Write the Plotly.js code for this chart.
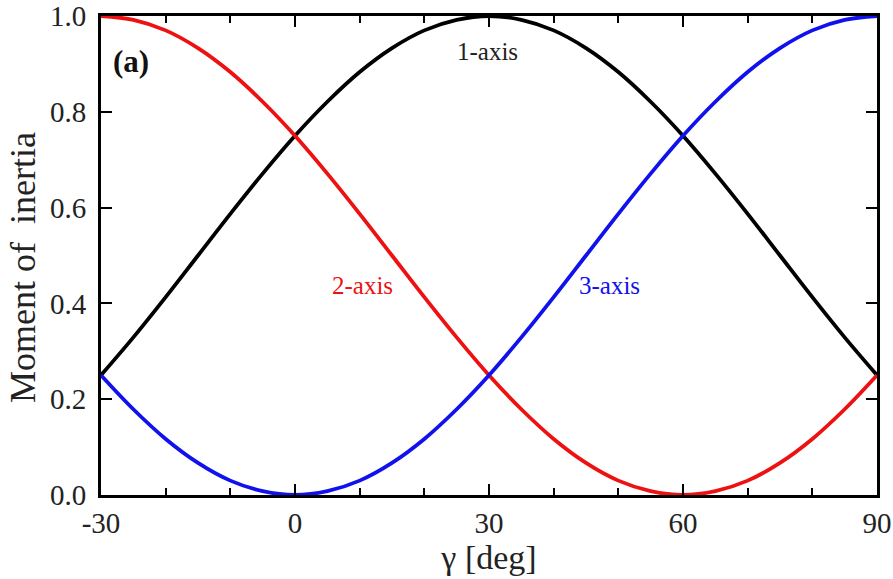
<!DOCTYPE html>
<html>
<head>
<meta charset="utf-8">
<script src="https://cdn.plot.ly/plotly-3.0.1.min.js"></script>
<style>
  html, body { margin: 0; padding: 0; background: #fff; }
  #plot { width: 893px; height: 579px; }
</style>
</head>
<body>
<div id="plot"></div>
<script>
// Triaxial angle gamma in degrees
const gammaDeg = [-30, -25, -20, -15, -10, -5, 0, 5, 10, 15, 20, 25, 30,
                  35, 40, 45, 50, 55, 60, 65, 70, 75, 80, 85, 90];

// Moments of inertia about the three principal axes (normalised)
const axis1 = [0.250, 0.329, 0.413, 0.500, 0.587, 0.671, 0.750, 0.821, 0.883, 0.933, 0.970, 0.992, 1.000,
               0.992, 0.970, 0.933, 0.883, 0.821, 0.750, 0.671, 0.587, 0.500, 0.413, 0.329, 0.250];
const axis2 = [1.000, 0.992, 0.970, 0.933, 0.883, 0.821, 0.750, 0.671, 0.587, 0.500, 0.413, 0.329, 0.250,
               0.179, 0.117, 0.067, 0.030, 0.008, 0.000, 0.008, 0.030, 0.067, 0.117, 0.179, 0.250];
const axis3 = [0.250, 0.179, 0.117, 0.067, 0.030, 0.008, 0.000, 0.008, 0.030, 0.067, 0.117, 0.179, 0.250,
               0.329, 0.413, 0.500, 0.587, 0.671, 0.750, 0.821, 0.883, 0.933, 0.970, 0.992, 1.000];

const xTickVals = [-30, 0, 30, 60, 90];
const xTickText = ['-30', '0', '30', '60', '90'];
const yTickVals = [0, 0.2, 0.4, 0.6, 0.8, 1.0];
const yTickText = ['0.0', '0.2', '0.4', '0.6', '0.8', '1.0'];

const serif = 'Liberation Serif';

function curve(y, color) {
  return {
    x: gammaDeg, y: y, type: 'scatter', mode: 'lines',
    line: { color: color, width: 3.8, shape: 'spline', smoothing: 1 },
    hoverinfo: 'skip', showlegend: false
  };
}

const traces = [
  curve(axis1, '#000000'),
  curve(axis2, '#ee1111'),
  curve(axis3, '#1111ee')
];

const axisCommon = {
  showgrid: false, zeroline: false,
  showline: true, linecolor: '#000', linewidth: 3,
  mirror: 'ticks', ticks: 'inside', tickcolor: '#000', tickwidth: 2,
  tickfont: { family: serif, size: 29, color: '#222' }
};

const layout = {
  width: 893, height: 579,
  margin: { l: 101, r: 16, t: 16, b: 84 },
  paper_bgcolor: '#fff', plot_bgcolor: '#fff',
  font: { family: serif },
  xaxis: Object.assign({}, axisCommon, {
    range: [-30, 90],
    tickmode: 'array', tickvals: xTickVals, ticktext: xTickText,
    ticklen: 11,
    minor: { ticks: 'inside', dtick: 10, tick0: 0, ticklen: 7, tickwidth: 2, tickcolor: '#000' },
    title: { text: 'γ [deg]', font: { family: serif, size: 34, color: '#222' }, standoff: 0 }
  }),
  yaxis: Object.assign({}, axisCommon, {
    range: [0, 1],
    tickmode: 'array', tickvals: yTickVals, ticktext: yTickText,
    ticklen: 11, ticklabelstandoff: 6
  }),
  annotations: [
    // y-axis title, placed slightly below the plot centre
    { text: 'Moment of  inertia', x: -0.1005, y: 0.474, xref: 'paper', yref: 'paper',
      xanchor: 'center', yanchor: 'middle', textangle: -90,
      showarrow: false, font: { family: serif, size: 36, color: '#222' } },
    { text: '<b>(a)</b>', x: 0.039, y: 0.904, xref: 'paper', yref: 'paper', xanchor: 'center', yanchor: 'middle',
      showarrow: false, font: { family: serif, size: 31, color: '#111' } },
    { text: '1-axis', x: 29.8, y: 0.925, xanchor: 'center', yanchor: 'middle',
      showarrow: false, font: { family: serif, size: 25, color: '#222' } },
    { text: '2-axis', x: 10.5, y: 0.438, xanchor: 'center', yanchor: 'middle',
      showarrow: false, font: { family: serif, size: 25, color: '#ee1111' } },
    { text: '3-axis', x: 48.7, y: 0.438, xanchor: 'center', yanchor: 'middle',
      showarrow: false, font: { family: serif, size: 25, color: '#1111ee' } }
  ]
};

Plotly.newPlot('plot', traces, layout, { displayModeBar: false, staticPlot: true });
</script>
</body>
</html>
